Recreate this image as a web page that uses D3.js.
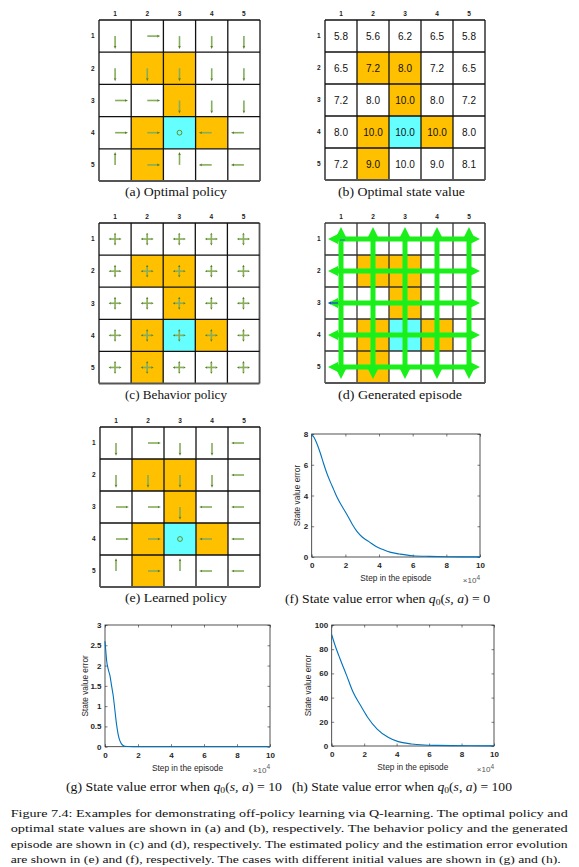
<!DOCTYPE html>
<html><head><meta charset="utf-8">
<script src="https://cdn.jsdelivr.net/npm/d3@7"></script>
<style>body{margin:0;background:#fff}svg{display:block}</style>
</head><body>
<svg id="fig" width="579" height="867"></svg>
<script>
// ---------------- DATA ----------------
const gridCols = [1, 2, 3, 4, 5];
const gridRows = [1, 2, 3, 4, 5];
const forbiddenCells = [[2,2],[2,3],[3,3],[4,2],[4,4],[5,2]]; // [row, col]
const targetCell = [4, 3];

// u = up, d = down, l = left, r = right, o = stay
const optimalPolicy = [
  ["d","r","d","d","d"],
  ["d","d","d","d","d"],
  ["r","r","d","d","d"],
  ["r","r","o","l","l"],
  ["u","r","u","l","l"]
];
const optimalValues = [
  ["5.8","5.6","6.2","6.5","5.8"],
  ["6.5","7.2","8.0","7.2","6.5"],
  ["7.2","8.0","10.0","8.0","7.2"],
  ["8.0","10.0","10.0","10.0","8.0"],
  ["7.2","9.0","10.0","9.0","8.1"]
];
const behaviorActions = ["u","d","l","r","o"];
const behaviorProbs = [0.2, 0.2, 0.2, 0.2, 0.2];
const learnedPolicy = [
  ["d","r","d","d","l"],
  ["d","d","d","d","l"],
  ["r","r","d","l","l"],
  ["r","r","o","l","l"],
  ["u","r","u","l","l"]
];
const episodeRows = [1, 2, 3, 4, 5];
const episodeCols = [1, 2, 3, 4, 5];

const xTickVals = [0, 2, 4, 6, 8, 10];
const stepsF = [0,0.15,0.3,0.5,0.7,0.9,1.1,1.3,1.5,1.8,2.1,2.4,2.7,3.0,3.4,3.8,4.2,4.7,5.2,6,7,8,9,10];
const errorF = [8.0,7.75,7.4,6.8,6.1,5.45,4.9,4.4,3.9,3.3,2.75,2.15,1.65,1.3,1.0,0.7,0.5,0.3,0.2,0.08,0.04,0.02,0.01,0.01];
const yTicksF = [0, 2, 4, 6, 8];

const stepsG = [0,0.05,0.1,0.2,0.3,0.4,0.5,0.6,0.7,0.8,0.9,1.0,1.1,1.2,1.4,2,4,6,8,10];
const errorG = [2.6,2.35,2.12,1.9,1.75,1.5,1.25,0.9,0.55,0.3,0.15,0.07,0.03,0.01,0.005,0,0,0,0,0];
const yTicksG = [0, 0.5, 1, 1.5, 2, 2.5, 3];

const stepsH = [0,0.2,0.5,0.9,1.3,1.8,2.2,2.8,3.5,4.1,4.9,5.7,6.5,7.4,8.5,10];
const errorH = [92,83.5,72.5,59,45,33,24,14,7,3.6,1.7,0.8,0.5,0.3,0.15,0.1];
const yTicksH = [0, 20, 40, 60, 80, 100];

const captionLines = [
  "Figure 7.4: Examples for demonstrating off-policy learning via Q-learning.  The optimal policy and",
  "optimal state values are shown in (a) and (b), respectively.  The behavior policy and the generated",
  "episode are shown in (c) and (d), respectively. The estimated policy and the estimation error evolution",
  "are shown in (e) and (f), respectively. The cases with different initial values are shown in (g) and (h)."
];

// ---------------- DRAWING ----------------
const svg = d3.select("#fig");
svg.append("rect").attr("width",579).attr("height",867).attr("fill","#fff");
const ORANGE = "#FFC000", CYAN = "#66FFFF";
const SANS = "'Liberation Sans', Arial, sans-serif";
const SERIF = "'Liberation Serif', 'Times New Roman', serif";
const dirVec = {u:[0,-1], d:[0,1], l:[-1,0], r:[1,0]};

function isForbidden(r,c){ return forbiddenCells.some(f=>f[0]===r && f[1]===c); }
function isTarget(r,c){ return targetCell[0]===r && targetCell[1]===c; }

function gridPanel(x0, y0, size, lineColor) {
  const g = svg.append("g");
  const xs = d3.scaleBand().domain(gridCols).range([x0, x0+size]);
  const ys = d3.scaleBand().domain(gridRows).range([y0, y0+size]);
  const bw = xs.bandwidth();
  const cells = [];
  gridRows.forEach(r => gridCols.forEach(c => cells.push({r, c})));
  g.selectAll("rect.cell").data(cells).join("rect").attr("class","cell")
    .attr("x", d=>xs(d.c)).attr("y", d=>ys(d.r)).attr("width", bw).attr("height", bw)
    .attr("fill", d => isTarget(d.r,d.c) ? CYAN : isForbidden(d.r,d.c) ? ORANGE : "#fff");
  const edges = d3.range(0, 6);
  g.selectAll("line.v").data(edges).join("line")
    .attr("x1", i=>x0+i*bw).attr("x2", i=>x0+i*bw).attr("y1", y0).attr("y2", y0+size)
    .attr("stroke", (i)=> i===5 ? "#555" : lineColor).attr("stroke-width", i=> i===5?1.8:1.3);
  g.selectAll("line.h").data(edges).join("line")
    .attr("y1", i=>y0+i*bw).attr("y2", i=>y0+i*bw).attr("x1", x0).attr("x2", x0+size)
    .attr("stroke", (i)=> i===5 ? "#555" : lineColor).attr("stroke-width", i=> i===5?1.8:1.3);
  g.selectAll("text.col").data(gridCols).join("text")
    .attr("x", c=>xs(c)+bw/2).attr("y", y0-4.5).attr("text-anchor","middle")
    .attr("font-family", SANS).attr("font-size", 6.5).attr("font-weight","bold").attr("fill","#222").text(c=>c);
  g.selectAll("text.row").data(gridRows).join("text")
    .attr("x", x0-4.5).attr("y", r=>ys(r)+bw/2+2.3).attr("text-anchor","end")
    .attr("font-family", SANS).attr("font-size", 6.5).attr("font-weight","bold").attr("fill","#222").text(r=>r);
  return {g, xs, ys, bw, cells};
}

function arrow(g, x1, y1, dx, dy, len, headL, headW) {
  const x2 = x1 + dx*len, y2 = y1 + dy*len;
  const bx = x2 - dx*headL, by = y2 - dy*headL;
  g.append("line").attr("x1",x1).attr("y1",y1).attr("x2",bx).attr("y2",by)
    .attr("stroke","#86ad5a").attr("stroke-width",1.6);
  const px = -dy, py = dx;
  g.append("polygon")
    .attr("points", [[x2,y2],[bx+px*headW/2, by+py*headW/2],[bx-px*headW/2, by-py*headW/2]].map(p=>p.join(",")).join(" "))
    .attr("fill","#557f27");
}

function policyArrows(P, policy) {
  P.cells.forEach(d => {
    const a = policy[d.r-1][d.c-1];
    const cx = P.xs(d.c)+P.bw/2, cy = P.ys(d.r)+P.bw/2;
    if (a === "o") {
      P.g.append("circle").attr("cx",cx).attr("cy",cy).attr("r",2.4)
        .attr("fill","none").attr("stroke","#5f9127").attr("stroke-width",1);
    } else {
      const v = dirVec[a];
      arrow(P.g, cx, cy, v[0], v[1], P.bw*0.4, 3, 2.6);
    }
  });
}

// caption centred at x, stretched horizontally to the width it has in the reference
function caption(x, y, width, parts) {
  const t = svg.append("text").attr("x", x).attr("y", y).attr("text-anchor","middle")
    .attr("font-family", SERIF).attr("font-size", 12.6).attr("fill","#111");
  parts.forEach(p => {
    const s = t.append("tspan").text(p.t);
    if (p.i) s.attr("font-style","italic");
    if (p.sub) s.attr("font-size", 8.8).attr("dy", 2.5);
    if (p.up) s.attr("dy", -2.5);
  });
  const w = t.node().getComputedTextLength();
  const k = width / w;
  t.attr("transform", `translate(${x},0) scale(${k},1) translate(${-x},0)`);
}

// (a) Optimal policy
const A = gridPanel(99, 20, 161, "#111");
policyArrows(A, optimalPolicy);
caption(176, 196, 102, [{t:"(a) Optimal policy"}]);

// (b) Optimal state value
const B = gridPanel(325, 20, 160, "#111");
B.g.selectAll("text.val").data(B.cells).join("text")
  .attr("x", d=>B.xs(d.c)+B.bw/2).attr("y", d=>B.ys(d.r)+B.bw/2+3.6)
  .attr("text-anchor","middle").attr("font-family", SANS).attr("font-size", 10).attr("fill","#111")
  .text(d=>optimalValues[d.r-1][d.c-1]);
caption(401.5, 196, 127, [{t:"(b) Optimal state value"}]);

// (c) Behavior policy
const C = gridPanel(99, 223, 160.5, "#111");
C.cells.forEach(d => {
  const cx = C.xs(d.c)+C.bw/2, cy = C.ys(d.r)+C.bw/2;
  behaviorActions.forEach((a, k) => {
    if (a === "o") return;
    const v = dirVec[a];
    arrow(C.g, cx, cy, v[0], v[1], C.bw*behaviorProbs[k], 2.2, 2.4);
  });
});
caption(176, 399.5, 102, [{t:"(c) Behavior policy"}]);

// (d) Generated episode
const D = gridPanel(325, 223, 160, "#333");
(function(){
  const g = D.g.append("g");
  const G = "#19f019";
  const x0 = 325, y0 = 223, s = 160, bw = D.bw;
  const bandW = 5, headL = 10, headW = 10;
  function band(x1,y1,x2,y2){
    const dx = Math.sign(x2-x1), dy = Math.sign(y2-y1);
    g.append("line").attr("x1",x1+dx*headL).attr("y1",y1+dy*headL).attr("x2",x2-dx*headL).attr("y2",y2-dy*headL)
      .attr("stroke",G).attr("stroke-width",bandW);
    const px=-dy, py=dx;
    [[x1,y1,-dx,-dy],[x2,y2,dx,dy]].forEach(([tx,ty,ux,uy])=>{
      const bx = tx-ux*headL, by = ty-uy*headL;
      g.append("polygon").attr("points",
        [[tx,ty],[bx+px*headW/2,by+py*headW/2],[bx-px*headW/2,by-py*headW/2]].map(p=>p.join(",")).join(" "))
        .attr("fill",G);
    });
  }
  episodeRows.forEach(r => { const cy = D.ys(r)+bw/2; band(x0+3, cy, x0+s-5, cy); });
  episodeCols.forEach(c => { const cx = D.xs(c)+bw/2; band(cx, y0+4, cx, y0+s-4); });
  // blue marks
  const cy3 = D.ys(3)+bw/2;
  g.append("line").attr("x1", x0+13).attr("y1", cy3).attr("x2", x0+5).attr("y2", cy3).attr("stroke","#1f3fe0").attr("stroke-width",1.2);
  g.append("polygon").attr("points", `${x0+3},${cy3} ${x0+6},${cy3-1.6} ${x0+6},${cy3+1.6}`).attr("fill","#1f3fe0");
  const c1 = D.xs(1)+bw/2, r1 = D.ys(1)+bw/2;
  g.append("line").attr("x1", c1-1).attr("y1", r1+1).attr("x2", c1+4).attr("y2", r1+1).attr("stroke","#3050e0").attr("stroke-width",0.9);
})();
caption(400, 399.5, 124, [{t:"(d) Generated episode"}]);

// (e) Learned policy
const E = gridPanel(100, 427, 160, "#111");
policyArrows(E, learnedPolicy);
caption(176, 602.5, 102, [{t:"(e) Learned policy"}]);

// Line plots
function linePlot(x0, y0, w, h, ymax, yticks, steps, vals, ylabOff) {
  const x = d3.scaleLinear().domain([0,10]).range([x0, x0+w]);
  const y = d3.scaleLinear().domain([0,ymax]).range([y0+h, y0]);
  const g = svg.append("g");
  const AX = "#262626";
  const styleAxis = (sel) => {
    sel.select(".domain").remove();
    sel.selectAll(".tick line").attr("stroke", AX).attr("stroke-width", 0.6);
    sel.selectAll(".tick text").attr("fill", AX).attr("font-family", SANS).attr("font-size", 8).attr("font-weight","bold");
  };
  g.append("g").attr("transform",`translate(0,${y0+h})`)
    .call(d3.axisBottom(x).tickValues(xTickVals).tickSizeInner(-2.5).tickSizeOuter(0).tickPadding(5.5).tickFormat(d3.format("d")))
    .call(styleAxis);
  g.append("g").attr("transform",`translate(0,${y0})`)
    .call(d3.axisTop(x).tickValues(xTickVals).tickSizeInner(-2.5).tickSizeOuter(0).tickFormat(""))
    .call(styleAxis);
  g.append("g").attr("transform",`translate(${x0},0)`)
    .call(d3.axisLeft(y).tickValues(yticks).tickSizeInner(-2.5).tickSizeOuter(0).tickPadding(3.5).tickFormat(d=>String(d)))
    .call(styleAxis);
  g.append("g").attr("transform",`translate(${x0+w},0)`)
    .call(d3.axisRight(y).tickValues(yticks).tickSizeInner(-2.5).tickSizeOuter(0).tickFormat(""))
    .call(styleAxis);
  g.append("rect").attr("x",x0).attr("y",y0).attr("width",w).attr("height",h)
    .attr("fill","none").attr("stroke",AX).attr("stroke-width",0.8);
  const pts = steps.map((s,i)=>[s, vals[i]]);
  g.append("path").datum(pts)
    .attr("d", d3.line().x(d=>x(d[0])).y(d=>y(d[1])).curve(d3.curveMonotoneX))
    .attr("fill","none").attr("stroke","#0072BD").attr("stroke-width",1.1);
  g.append("text").attr("x", x0+w/2).attr("y", y0+h+24).attr("text-anchor","middle")
    .attr("font-family", SANS).attr("font-size", 8.3).attr("fill", AX).text("Step in the episode");
  const m = g.append("text").attr("x", x0+w).attr("y", y0+h+26).attr("text-anchor","end")
    .attr("font-family", SANS).attr("font-size", 8).attr("fill", "#555");
  m.append("tspan").text("×10");
  m.append("tspan").attr("dy",-3.5).attr("font-size",6.5).text("4");
  g.append("text").attr("transform",`translate(${x0-ylabOff},${y0+h/2}) rotate(-90)`)
    .attr("text-anchor","middle").attr("font-family", SANS).attr("font-size", 8.3).attr("fill", AX)
    .text("State value error");
}

linePlot(311.7, 434, 168.3, 123, 8, yTicksF, stepsF, errorF, 12);
caption(387.5, 603, 205, [{t:"(f) State value error when "},{t:"q",i:1},{t:"0",sub:1},{t:"(",up:1},{t:"s, a",i:1},{t:") = 0"}]);

linePlot(105, 625, 165, 121.7, 3, yTicksG, stepsG, errorG, 17);
caption(174, 791, 216, [{t:"(g) State value error when "},{t:"q",i:1},{t:"0",sub:1},{t:"(",up:1},{t:"s, a",i:1},{t:") = 10"}]);

linePlot(331.7, 625, 162.3, 121, 100, yTicksH, stepsH, errorH, 21);
caption(402, 791, 220, [{t:"(h) State value error when "},{t:"q",i:1},{t:"0",sub:1},{t:"(",up:1},{t:"s, a",i:1},{t:") = 100"}]);

// Main caption
const capY = [816.7, 832, 847.7, 862.9];
const capEnd = [567.7, 567.7, 567.7, 560.7];
svg.selectAll("text.cap").data(captionLines).join("text")
  .attr("x", 10.7).attr("y", (d,i)=>capY[i])
  .attr("font-family", SERIF).attr("font-size", 11).attr("fill","#111")
  .attr("textLength", (d,i)=>capEnd[i]-10.7).attr("lengthAdjust","spacingAndGlyphs")
  .text(d=>d);
</script>
</body></html>
